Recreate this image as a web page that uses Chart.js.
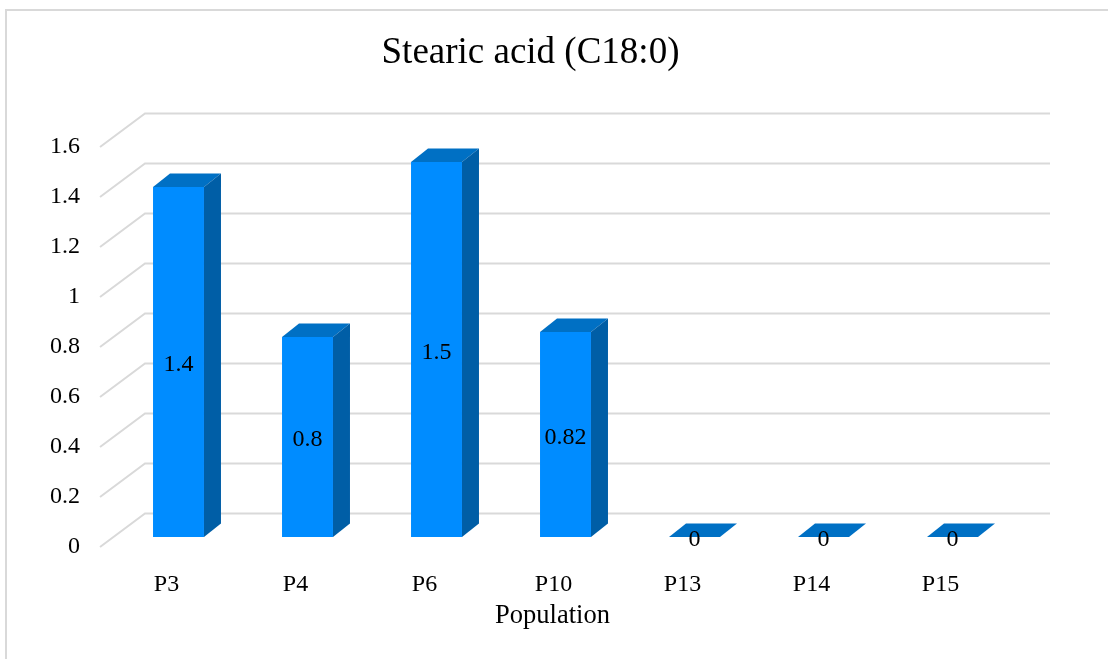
<!DOCTYPE html>
<html>
<head>
<meta charset="utf-8">
<script src="https://cdn.jsdelivr.net/npm/chart.js@4.4.1/dist/chart.umd.min.js"></script>
<style>
  html, body { margin: 0; padding: 0; background: #ffffff; overflow: hidden; }
  #wrap { position: relative; width: 1108px; height: 659px; }
  #frame { position: absolute; left: 5px; top: 9px; width: 1300px; height: 900px; border: 2px solid #D9D9D9; box-sizing: border-box; }
  canvas { position: absolute; left: 0; top: 0; }
</style>
</head>
<body>
<div id="wrap">
  <div id="frame"></div>
  <canvas id="c" width="1108" height="659"></canvas>
</div>
<script>
const titleText = 'Stearic acid (C18:0)';
const xAxisTitle = 'Population';
const categories = ['P3', 'P4', 'P6', 'P10', 'P13', 'P14', 'P15'];
const values = [1.4, 0.8, 1.5, 0.82, 0, 0, 0];
const yTicks = [0, 0.2, 0.4, 0.6, 0.8, 1, 1.2, 1.4, 1.6];
const valueLabels = ['1.4', '0.8', '1.5', '0.82', '0', '0', '0'];

const FONT = "'Liberation Serif', 'Times New Roman', serif";
const FRONT = '#008CFF';
const TOP = '#0070C4';
const SIDE = '#005EA6';
const GRID = '#D9D9D9';
const DX = 17, DY = 13.5;

const depthPlugin = {
  id: 'depth',
  beforeDatasetsDraw(chart) {
    const { ctx, chartArea: { left, right }, scales: { y } } = chart;
    ctx.save();
    ctx.strokeStyle = GRID;
    ctx.lineWidth = 2;
    yTicks.forEach(v => {
      const p = y.getPixelForValue(v);
      ctx.beginPath();
      ctx.moveTo(left - 14, p + 10);
      ctx.lineTo(left + 31, p - 23.5);
      ctx.lineTo(right + 33, p - 23.5);
      ctx.stroke();
    });
    ctx.restore();
  },
  afterDatasetsDraw(chart) {
    const { ctx, chartArea: { left, right } } = chart;
    const meta = chart.getDatasetMeta(0);
    ctx.save();
    meta.data.forEach((bar, i) => {
      const { x, y: top, base, width } = bar.getProps(['x', 'y', 'base', 'width'], true);
      const xl = x - width / 2, xr = x + width / 2;
      ctx.fillStyle = TOP;
      ctx.beginPath();
      ctx.moveTo(xl, top);
      ctx.lineTo(xl + DX, top - DY);
      ctx.lineTo(xr + DX, top - DY);
      ctx.lineTo(xr, top);
      ctx.closePath();
      ctx.fill();
      if (base - top > 0.5) {
        ctx.fillStyle = SIDE;
        ctx.beginPath();
        ctx.moveTo(xr, top);
        ctx.lineTo(xr + DX, top - DY);
        ctx.lineTo(xr + DX, base - DY);
        ctx.lineTo(xr, base);
        ctx.closePath();
        ctx.fill();
      }
      ctx.fillStyle = '#000000';
      ctx.font = '24px ' + FONT;
      ctx.textAlign = 'center';
      ctx.textBaseline = 'middle';
      const ly = base - top > 0.5 ? (top + base) / 2 + 3 : base + 2.5;
      ctx.fillText(valueLabels[i], x, ly);
    });
    ctx.fillStyle = '#000000';
    ctx.font = '26.5px ' + FONT;
    ctx.textAlign = 'center';
    ctx.textBaseline = 'alphabetic';
    ctx.fillText(xAxisTitle, (left + right) / 2 - 13, 623);
    ctx.restore();
  }
};

new Chart(document.getElementById('c'), {
  type: 'bar',
  data: {
    labels: categories,
    datasets: [{
      data: values,
      backgroundColor: FRONT,
      borderWidth: 0,
      categoryPercentage: 1,
      barPercentage: 0.395
    }]
  },
  options: {
    responsive: false,
    animation: false,
    devicePixelRatio: 1,
    layout: { padding: { left: 44, right: 91, top: 0, bottom: 0 } },
    plugins: {
      legend: { display: false },
      tooltip: { enabled: false },
      title: {
        display: true,
        text: titleText,
        color: '#000000',
        font: { family: FONT, size: 37, weight: 'normal', lineHeight: 1.2 },
        padding: { top: 31, bottom: 61.6 }
      }
    },
    scales: {
      x: {
        grid: { display: false },
        border: { display: false },
        ticks: {
          color: '#000000',
          font: { family: FONT, size: 24 },
          padding: 25,
          labelOffset: -12,
          maxRotation: 0
        },
        afterFit(s) { s.height = 122; }
      },
      y: {
        min: 0,
        max: 1.6,
        grid: { display: false },
        border: { display: false },
        afterBuildTicks(s) { s.ticks = yTicks.map(v => ({ value: v })); },
        ticks: {
          color: '#000000',
          font: { family: FONT, size: 24 },
          padding: 26,
          labelOffset: 10,
          callback: (v) => String(Number(v.toFixed(1)))
        },
        afterFit(s) { s.width = 70; }
      }
    }
  },
  plugins: [depthPlugin]
});
</script>
</body>
</html>
